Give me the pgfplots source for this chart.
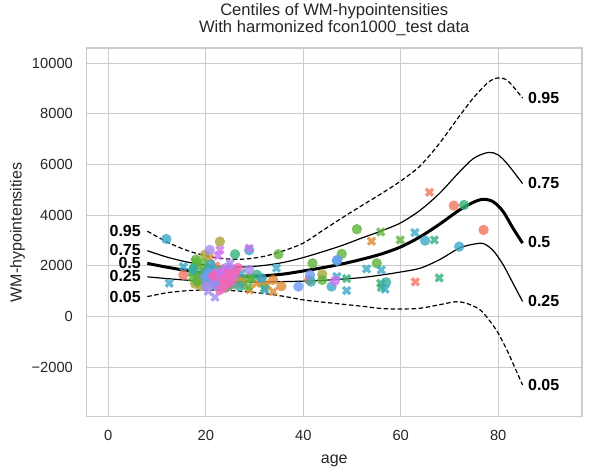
\documentclass[border=0pt]{standalone}
\usepackage{fontspec}
\setmainfont{Liberation Sans}
\usepackage{pgfplots}
\pgfplotsset{compat=1.18}
\definecolor{txt}{HTML}{262626}
\definecolor{grd}{HTML}{CCCCCC}
\definecolor{csal}{HTML}{F3735F}
\definecolor{cora}{HTML}{DC8932}
\definecolor{coli}{HTML}{A8A53A}
\definecolor{cgre}{HTML}{5BB33A}
\definecolor{csea}{HTML}{33B07A}
\definecolor{ctea}{HTML}{36ADA4}
\definecolor{ccya}{HTML}{39A8C8}
\definecolor{cblu}{HTML}{6E9BF4}
\definecolor{cpur}{HTML}{A48BF0}
\definecolor{cmag}{HTML}{D070F0}
\definecolor{cpin}{HTML}{F565B8}
\pgfdeclareplotmark{dot}{\pgfpathcircle{\pgfpointorigin}{\pgfplotmarksize}\pgfusepathqfill}
\pgfdeclareplotmark{bigX}{%
  \pgfsetlinewidth{3.3pt}\pgfsetbuttcap
  \pgfpathmoveto{\pgfqpoint{-3.5pt}{-3.5pt}}\pgfpathlineto{\pgfqpoint{3.5pt}{3.5pt}}%
  \pgfpathmoveto{\pgfqpoint{-3.5pt}{3.5pt}}\pgfpathlineto{\pgfqpoint{3.5pt}{-3.5pt}}%
  \pgfusepathqstroke}
\newcommand{\pts}[3]{\addplot[only marks, mark=#2, mark size=5.2pt, mark options={fill=#1, draw=#1, opacity=0.8}] coordinates {#3};}
\begin{document}
\begin{tikzpicture}
\begin{axis}[
  scale only axis, width=495.6pt, height=368.7pt,
  xmin=-4.5, xmax=97.2, ymin=-3950, ymax=10600,
  scaled y ticks=false, scaled x ticks=false,
  xtick={0,20,40,60,80}, xticklabels={0,20,40,60,80},
  ytick={-2000,0,2000,4000,6000,8000,10000},
  yticklabels={−2000,0,2000,4000,6000,8000,10000},
  grid=major, grid style={grd, line width=1pt},
  axis line style={grd, line width=1.25pt},
  major tick length=0pt,
  tick label style={font=\fontsize{14.7}{17}\selectfont, text=txt},
  xticklabel style={yshift=-10pt}, yticklabel style={xshift=-10pt},
  xlabel={age}, ylabel={WM-hypointensities},
  label style={font=\fontsize{16}{19}\selectfont, text=txt},
  xlabel style={at={(axis description cs:0.5,-0.1193)}, anchor=center},
  ylabel style={at={(axis description cs:-0.139,0.5)}, anchor=center},
  title={Centiles of WM-hypointensities\\With harmonized fcon1000\_test data},
  title style={at={(axis description cs:0.5,1)}, anchor=south, yshift=6.2pt, inner sep=0pt, align=center, font=\fontsize{16.6}{15}\selectfont, text=txt},
]
\pts{csal}{dot}{(15.4,1645) (70.9,4380) (77.0,3420) (41.2,1448) (24.5,1700) (18.5,1520) (26.5,1450)}
\pts{csal}{bigX}{(65.9,4908) (63.0,1370) (22.0,2000)}
\pts{cora}{dot}{(33.8,1448) (27.4,1318) (31.5,1380) (21.5,1650) (24.2,1150) (35.5,1200)}
\pts{cora}{bigX}{(54.0,2975) (33.8,986) (30.4,1318) (20.8,2300) (32.5,1250) (29.0,1050) (25.5,1250)}
\pts{coli}{dot}{(22.9,2960) (19.8,2434) (43.9,1673) (17.8,1300) (18.8,1450) (19.0,1200) (26.0,1600) (20.5,1900) (23.0,1850)}
\pts{coli}{bigX}{(18.3,2000) (24.0,1400) (27.5,1500)}
\pts{cgre}{dot}{(51.0,3450) (47.9,2475) (55.1,2105) (34.9,2460) (41.9,2105) (43.9,1448) (28.9,1515) (18.0,2250) (19.4,2100) (17.5,1750) (19.0,1650) (21.0,1550) (23.5,1850) (18.2,1400) (20.2,1350)}
\pts{cgre}{bigX}{(55.9,3340) (59.9,3025) (28.7,1184) (32.0,1120) (17.8,2170) (29.4,1515) (19.5,1800) (17.2,1550)}
\pts{csea}{dot}{(73.0,4405) (26.0,2460) (17.5,1900) (22.0,1350) (30.5,1650)}
\pts{csea}{bigX}{(66.9,3025) (67.9,1527) (55.9,1318) (48.9,1500) (56.0,1150)}
\pts{ctea}{dot}{(57.0,1357) (41.6,1380) (17.4,1842) (25.0,1250) (22.5,1200) (20.0,1750) (27.0,1200)}
\pts{ccya}{dot}{(11.9,3065) (72.0,2760) (65.0,3000) (46.9,2200) (45.8,1184) (28.9,2620) (31.5,1515) (24.0,1500) (21.0,2050)}
\pts{ccya}{bigX}{(15.4,1973) (12.5,1318) (62.9,3315) (53.0,1880) (56.0,1840) (56.8,1080) (48.9,1026) (46.9,1580) (34.5,1910) (32.1,1053) (27.3,1710) (21.5,1850)}
\pts{cblu}{dot}{(47.0,2237) (41.4,1645) (39.0,1184) (21.0,1450) (22.0,1250) (20.5,1700) (23.0,1600) (25.5,1800) (19.8,1550)}
\pts{cpur}{dot}{(20.8,2630) (28.9,1842) (21.5,1300) (22.8,1500) (20.0,1200) (24.5,1950) (23.2,1750)}
\pts{cpur}{bigX}{(21.9,765) (20.5,1000) (23.5,1100) (25.0,2100)}
\pts{cmag}{dot}{(46.5,1420) (23.5,1750) (25.5,1550) (22.0,1700)}
\pts{cmag}{bigX}{(22.9,2630) (28.9,2700) (22.5,2400) (24.0,1900)}
\pts{cpin}{dot}{(24.6,1700) (26.6,1920) (22.9,1053) (23.5,1450) (25.0,1350) (21.5,1600) (24.0,1250) (26.0,1750)}
% centile curves
\addplot[black, line width=1.2pt, dash pattern=on 4.5pt off 2.5pt, smooth] coordinates {
(8,3370) (12,2950) (16,2620) (20,2400) (24,2280) (28,2270) (32,2380) (36,2600) (40,2900) (44,3400) (48,3900) (52,4380) (56,4850) (60,5350) (64,5950) (68,6850) (72,7900) (75,8650) (78,9250) (80,9420) (82,9300) (85,8620)};
\addplot[black, line width=1.2pt, smooth] coordinates {
(8,2600) (12,2350) (16,2160) (20,2030) (24,1960) (28,1960) (32,2020) (36,2140) (40,2330) (44,2560) (48,2810) (52,3100) (56,3380) (60,3700) (64,4200) (68,4870) (72,5700) (75,6250) (78,6480) (80,6380) (82,6000) (85,5250)};
\addplot[black, line width=3pt, smooth] coordinates {
(8,2100) (12,1950) (16,1820) (20,1700) (24,1620) (28,1590) (32,1610) (36,1680) (40,1800) (44,1930) (48,2080) (52,2260) (56,2470) (60,2750) (64,3150) (68,3650) (72,4200) (75,4520) (77,4630) (79,4530) (81,4150) (83,3500) (85,2900)};
\addplot[black, line width=1.2pt, smooth] coordinates {
(8,1570) (12,1500) (16,1440) (20,1400) (24,1380) (28,1370) (32,1370) (36,1380) (40,1400) (44,1430) (48,1480) (52,1540) (56,1640) (60,1760) (64,1910) (68,2250) (72,2700) (75,2860) (77,2880) (79,2600) (81,2050) (83,1330) (85,600)};
\addplot[black, line width=1.2pt, dash pattern=on 4.5pt off 2.5pt, smooth] coordinates {
(8,790) (12,940) (16,1020) (20,1050) (24,1040) (28,990) (32,910) (36,800) (40,660) (44,570) (48,490) (52,410) (56,320) (60,300) (64,330) (68,470) (71.5,590) (74,490) (76.3,265) (78,-100) (80,-650) (82,-1400) (83,-1830) (85,-2700)};
% centile labels
\begin{scope}[every node/.style={inner sep=0pt, font=\bfseries\fontsize{16}{19}\selectfont, text=black}]
\node[anchor=east] at (axis cs:6.7,3390) {0.95};
\node[anchor=east] at (axis cs:6.7,2630) {0.75};
\node[anchor=east] at (axis cs:6.7,2130) {0.5};
\node[anchor=east] at (axis cs:6.7,1605) {0.25};
\node[anchor=east] at (axis cs:6.7,790) {0.05};
\node[anchor=west] at (axis cs:86.1,8640) {0.95};
\node[anchor=west] at (axis cs:86.1,5270) {0.75};
\node[anchor=west] at (axis cs:86.1,2960) {0.5};
\node[anchor=west] at (axis cs:86.1,630) {0.25};
\node[anchor=west] at (axis cs:86.1,-2695) {0.05};
\end{scope}
\end{axis}
\pgfresetboundingbox
\path[use as bounding box] ([shift={(-86.4pt,-58.3pt)}]current axis.south west) rectangle ([shift={(10pt,48pt)}]current axis.north east);
\end{tikzpicture}
\end{document}
